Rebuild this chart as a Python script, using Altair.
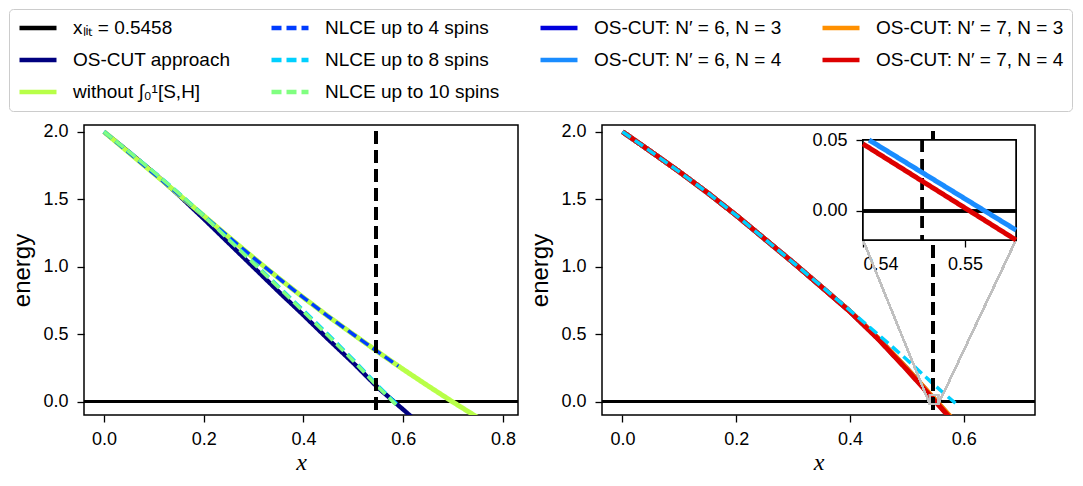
import altair as alt
import pandas as pd

X_LIT = 0.5458

# ---------------- series labels ----------------
L_XLIT = "xₗᵢₜ = 0.5458"
L_OSCUT = "OS-CUT approach"
L_WITHOUT = "without ∫₀¹[S,H]"
L_N4 = "NLCE up to 4 spins"
L_N8 = "NLCE up to 8 spins"
L_N10 = "NLCE up to 10 spins"
L_63 = "OS-CUT: N′ = 6, N = 3"
L_64 = "OS-CUT: N′ = 6, N = 4"
L_73 = "OS-CUT: N′ = 7, N = 3"
L_74 = "OS-CUT: N′ = 7, N = 4"

# legend entries, row by row (4 columns)
legend_order = [L_XLIT, L_N4, L_63, L_73,
                L_OSCUT, L_N8, L_64, L_74,
                L_WITHOUT, L_N10]
colors = ["#000000", "#003cff", "#0000dd", "#ff9000",
          "#00007f", "#00d0ff", "#1a8cff", "#dd0000",
          "#b8ff48", "#80ff80"]
dashes = [[1, 0], [10, 5], [1, 0], [1, 0],
          [1, 0], [10, 5], [1, 0], [1, 0],
          [1, 0], [10, 5]]
widths = [3, 3.5, 5, 5,
          4.5, 3.5, 5, 5,
          5, 3.5]
width_of = dict(zip(legend_order, widths))

# ---------------- left panel data ----------------
x_oscut = [0.0, 0.05, 0.1, 0.15, 0.2, 0.25, 0.3, 0.35, 0.4, 0.45, 0.5, 0.55, 0.6, 0.62]
y_oscut = [2.0, 1.85, 1.695, 1.53, 1.355, 1.175, 0.995, 0.815, 0.64, 0.46, 0.285, 0.10, -0.06, -0.125]

x_without = [0.0, 0.05, 0.1, 0.15, 0.2, 0.25, 0.3, 0.35, 0.4, 0.45, 0.5, 0.55, 0.6, 0.65, 0.7, 0.75]
y_without = [2.0, 1.845, 1.69, 1.535, 1.378, 1.22, 1.065, 0.915, 0.77, 0.63, 0.497, 0.366, 0.238, 0.115, -0.005, -0.12]

x_nlce4 = [0.0, 0.05, 0.1, 0.15, 0.2, 0.25, 0.3, 0.35, 0.4, 0.45, 0.5, 0.55, 0.59]
y_nlce4 = [2.0, 1.845, 1.69, 1.535, 1.378, 1.22, 1.065, 0.915, 0.77, 0.63, 0.497, 0.366, 0.262]

x_nlce = [0.0, 0.05, 0.1, 0.15, 0.2, 0.25, 0.3, 0.35, 0.4, 0.45, 0.5, 0.55, 0.59]
y_nlce8 = [2.0, 1.853, 1.703, 1.546, 1.38, 1.205, 1.03, 0.853, 0.675, 0.495, 0.31, 0.115, -0.03]
y_nlce10 = [2.0, 1.852, 1.701, 1.543, 1.376, 1.2, 1.024, 0.846, 0.667, 0.486, 0.301, 0.106, -0.04]

# ---------------- right panel data ----------------
x_right = [0.0, 0.05, 0.1, 0.15, 0.2, 0.25, 0.3, 0.35, 0.4, 0.45, 0.5, 0.55, 0.6]
y_63 = [2.0, 1.853, 1.703, 1.546, 1.38, 1.205, 1.03, 0.849, 0.668, 0.465, 0.243, 0.008, -0.226]
y_64 = [2.0, 1.853, 1.703, 1.546, 1.38, 1.205, 1.03, 0.849, 0.667, 0.463, 0.24, 0.006, -0.23]
y_73 = [2.0, 1.853, 1.703, 1.546, 1.38, 1.205, 1.03, 0.849, 0.668, 0.466, 0.245, 0.011, -0.222]
y_74 = [2.0, 1.853, 1.703, 1.546, 1.38, 1.205, 1.03, 0.848, 0.665, 0.46, 0.235, 0.0, -0.235]

# inset (zoom) data
ins_x_64 = [0.5406, 0.555]
ins_y_64 = [0.05, -0.0135]
ins_x_74 = [0.54, 0.555]
ins_y_74 = [0.0472, -0.0205]

INS_X = [0.54, 0.555]
INS_Y = [-0.0205, 0.05]

# axis limits / ticks
YLIM = [-0.1, 2.05]
XLIM_L = [-0.04, 0.83]
XLIM_R = [-0.036, 0.725]
yticks = [0.0, 0.5, 1.0, 1.5, 2.0]
xticks_l = [0.0, 0.2, 0.4, 0.6, 0.8]
xticks_r = [0.0, 0.2, 0.4, 0.6]

# ---------------- layout constants (pixels) ----------------
W_L, W_R, H = 434, 433, 290
INS_PX = dict(left=261, right=414, top=15, bottom=115)


def long(name, xs, ys):
    return pd.DataFrame({"series": name, "x": xs, "y": ys})


left_df = pd.concat([
    long(L_OSCUT, x_oscut, y_oscut),
    long(L_WITHOUT, x_without, y_without),
    long(L_N4, x_nlce4, y_nlce4),
    long(L_N8, x_nlce, y_nlce8),
    long(L_N10, x_nlce, y_nlce10),
], ignore_index=True)

right_df = pd.concat([
    long(L_63, x_right, y_63),
    long(L_64, x_right, y_64),
    long(L_73, x_right, y_73),
    long(L_74, x_right, y_74),
    long(L_N8, x_nlce, y_nlce8),
], ignore_index=True)

inset_df = pd.concat([
    long(L_64, ins_x_64, ins_y_64),
    long(L_74, ins_x_74, ins_y_74),
], ignore_index=True)

leg = alt.Legend(
    title=None, orient="none", direction="horizontal", legendX=-75, legendY=-116, columns=4,
    symbolType="stroke", symbolSize=1369, symbolStrokeWidth=4.5, clipHeight=22,
    labelFont="Liberation Sans", labelFontSize=19, labelColor="black",
    labelOffset=14, labelLimit=400, columnPadding=38, rowPadding=10,
    padding=8, strokeColor="#cccccc", cornerRadius=4, fillColor="white",
)

color_enc = alt.Color("series:N", scale=alt.Scale(domain=legend_order, range=colors), legend=leg)
dash_enc = alt.StrokeDash("series:N", scale=alt.Scale(domain=legend_order, range=dashes), legend=leg)

y_axis = alt.Axis(values=yticks, format=".1f", title="energy")


def panel_lines(df, draw_order, xlim, xticks):
    xs = alt.Scale(domain=xlim, nice=False, zero=False)
    ys = alt.Scale(domain=YLIM, nice=False, zero=False)
    x_enc = alt.X("x:Q", scale=xs, axis=alt.Axis(values=xticks, format=".1f", title="x"))
    y_enc = alt.Y("y:Q", scale=ys, axis=y_axis)
    hline = alt.Chart(df).mark_rule(color="black", strokeWidth=3).encode(
        y=alt.datum(0.0))
    layers = [hline]
    for name in draw_order:
        layers.append(
            alt.Chart(df).transform_filter(alt.datum.series == name)
            .mark_line(clip=True, strokeWidth=width_of[name])
            .encode(x=x_enc, y=y_enc, color=color_enc, strokeDash=dash_enc)
        )
    vline = alt.Chart(df).mark_rule(color="black", strokeWidth=3, strokeDash=[12, 7]).encode(
        x=alt.datum(X_LIT), y=alt.datum(YLIM[1] - 0.05), y2=alt.datum(YLIM[0]))
    layers.append(vline)
    return layers


left = alt.layer(
    *panel_lines(left_df, [L_OSCUT, L_WITHOUT, L_N4, L_N8, L_N10], XLIM_L, xticks_l)
).properties(width=W_L, height=H)

main_right_layers = panel_lines(right_df, [L_63, L_64, L_73, L_74, L_N8], XLIM_R, xticks_r)

# zoom box and connector lines (main coordinates -> inset corners)
zoom_box = alt.Chart(right_df).mark_rect(fillOpacity=0, stroke="#c0c0c0", strokeWidth=1.5).encode(
    x=alt.datum(INS_X[0]), x2=alt.datum(INS_X[1]),
    y=alt.datum(INS_Y[0]), y2=alt.datum(INS_Y[1]))
conn1 = alt.Chart(right_df).mark_rule(color="#c0c0c0", strokeWidth=1.5).encode(
    x=alt.datum(INS_X[0]), y=alt.datum(INS_Y[0]),
    x2=alt.value(INS_PX["left"]), y2=alt.value(INS_PX["bottom"]))
conn2 = alt.Chart(right_df).mark_rule(color="#c0c0c0", strokeWidth=1.5).encode(
    x=alt.datum(INS_X[1]), y=alt.datum(INS_Y[0]),
    x2=alt.value(INS_PX["right"]), y2=alt.value(INS_PX["bottom"]))

main_right = alt.layer(*main_right_layers, zoom_box, conn1, conn2)

# ---------------- inset ----------------
ins_xs = alt.Scale(domain=INS_X, range=[INS_PX["left"], INS_PX["right"]], nice=False, zero=False)
ins_ys = alt.Scale(domain=INS_Y, range=[INS_PX["bottom"], INS_PX["top"]], nice=False, zero=False)
ins_xaxis = alt.Axis(values=[0.54, 0.55], format=".2f", title=None, orient="bottom",
                     offset=INS_PX["bottom"] - H)
ins_yaxis = alt.Axis(values=[0.0, 0.05], format=".2f", title=None, orient="left",
                     offset=-INS_PX["left"])

ins_frame = alt.Chart(inset_df).mark_rect(fill="white", stroke="black", strokeWidth=1.5).encode(
    x=alt.XDatum(INS_X[0], type="quantitative", scale=ins_xs, axis=ins_xaxis),
    x2=alt.datum(INS_X[1]),
    y=alt.YDatum(INS_Y[0], type="quantitative", scale=ins_ys, axis=ins_yaxis),
    y2=alt.datum(INS_Y[1]))
ins_hline = alt.Chart(inset_df).mark_rule(color="black", strokeWidth=3).encode(
    x=alt.datum(INS_X[0]), x2=alt.datum(INS_X[1]), y=alt.datum(0.0))
ins_vline = alt.Chart(inset_df).mark_rule(color="black", strokeWidth=3, strokeDash=[12, 7]).encode(
    x=alt.datum(X_LIT), y=alt.datum(INS_Y[1]), y2=alt.datum(INS_Y[0]))
ins_layers = [ins_frame, ins_hline, ins_vline]
for name in [L_64, L_74]:
    ins_layers.append(
        alt.Chart(inset_df).transform_filter(alt.datum.series == name)
        .mark_line(strokeWidth=width_of[name])
        .encode(x=alt.X("x:Q", scale=ins_xs, axis=ins_xaxis),
                y=alt.Y("y:Q", scale=ins_ys, axis=ins_yaxis),
                color=color_enc, strokeDash=dash_enc)
    )
inset = alt.layer(*ins_layers)

right = alt.layer(main_right, inset).resolve_scale(x="independent", y="independent").properties(
    width=W_R, height=H)

chart = alt.hconcat(left, right, spacing=7).resolve_scale(
    x="independent", y="independent"
).properties(
    padding={"left": 0, "top": 0, "right": 0, "bottom": 0}
).configure_view(
    stroke="black", strokeWidth=1.5
).configure_axis(
    labelFont="Liberation Sans", labelFontSize=18, labelColor="black",
    tickColor="black", tickWidth=1.3, tickSize=7, labelPadding=9,
    domain=False, grid=False,
    titleFont="Liberation Sans", titleFontSize=24, titleFontWeight="normal", titleColor="black",
).configure_axisX(
    labelPadding=8, titleFont="Liberation Serif", titleFontStyle="italic", titleFontSize=24,
    titlePadding=2,
).configure_axisY(
    titlePadding=8,
)

chart.save("out.html", embed_options={"renderer": "svg", "actions": False})
